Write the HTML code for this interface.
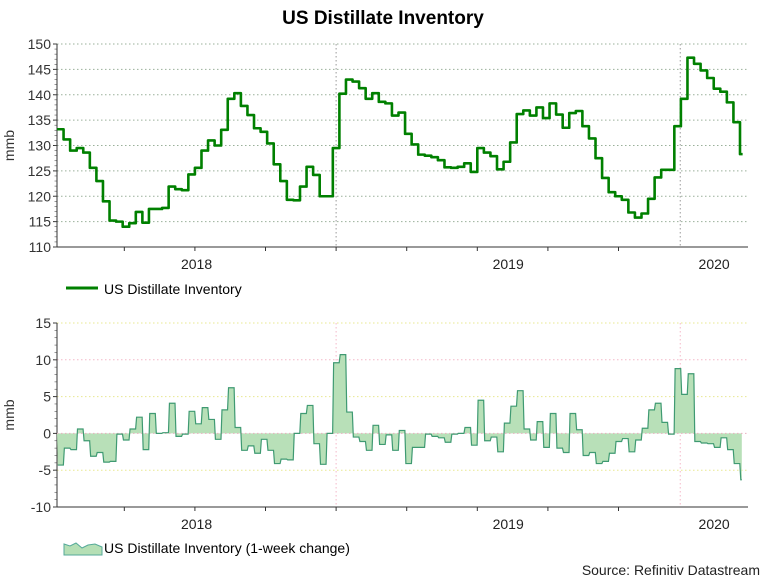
<!DOCTYPE html>
<html><head><meta charset="utf-8"><style>
body{margin:0;background:#fff;font-family:"Liberation Sans",sans-serif;}
svg text{font-family:"Liberation Sans",sans-serif;}
</style></head><body>
<svg id="c" width="772" height="577" xmlns="http://www.w3.org/2000/svg">
<text x="383" y="24" text-anchor="middle" font-size="19" font-weight="bold" fill="#000">US Distillate Inventory</text>
<g id="top"></g><g id="bot"></g>
<line x1="66" y1="288" x2="98" y2="288" stroke="#008000" stroke-width="3"/>
<text x="104" y="294" font-size="14" fill="#000">US Distillate Inventory</text>
<path d="M64,555 L64,544 L70,546 L76,543 L82,548 L88,545 L95,544 L102,547 L102,555 Z" fill="#b5dfb5" stroke="#5a9" stroke-width="1"/>
<text x="104" y="553" font-size="14" fill="#000">US Distillate Inventory (1-week change)</text>
<text x="760" y="575" text-anchor="end" font-size="14" fill="#222">Source: Refinitiv Datastream</text>
</svg>
<script>
const inventory=[133.2,131.2,129,129.5,128.6,125.6,123,119,115.2,115,114,114.7,116.9,114.8,117.5,117.5,117.7,121.9,121.4,121.2,124.3,125.6,129,131,130,133.1,139.2,140.3,137.8,136,133.4,132.7,130.4,126.3,123,119.3,119.2,121.9,125.8,124.2,120,120,129.5,140.2,143,142.6,141.3,139.2,140.3,138.6,138.3,135.9,
136.5,132.3,130.2,128.2,128,127.7,127.1,125.7,125.6,125.8,126.5,124.8,129.5,128.6,127.9,125.3,126.8,130.6,136.2,136.9,135.9,137.5,135.4,138.3,136.1,133.5,136.4,136.8,133.8,131.4,127.5,123.6,120.8,120,119.3,116.8,115.8,116.6,119.5,123.7,125.2,125.2,133.8,139.2,147.3,146.1,144.8,143.3,141.2,140.6,138.5,134.6,128.3];
const weeklyChange=[-4.3,-2.0,-2.2,0.6,-1.0,-3.1,-2.6,-3.9,-3.8,-0.1,-0.9,0.6,2.2,-2.2,2.7,0,0.1,4.1,-0.4,-0.1,3.0,1.3,3.5,1.9,-0.8,3.2,6.2,0.8,-2.3,-1.7,-2.7,-0.8,-2.3,-4.1,-3.5,-3.6,0,2.7,3.8,-1.4,-4.2,0,9.6,10.7,2.9,-0.5,-1.1,-2.3,1.1,-1.5,-0.2,-2.3,
0.4,-4.1,-1.9,-1.9,-0.1,-0.4,-0.6,-1.2,-0.1,0,0.8,-1.6,4.5,-1.0,-0.5,-2.5,1.4,3.7,5.8,0.6,-0.9,1.6,-1.9,2.7,-2.0,-2.6,2.7,0.5,-3.0,-2.6,-4.1,-3.8,-2.7,-1.1,-0.7,-2.5,-0.9,0.7,3.2,4.1,1.5,-0.1,8.8,5.3,8.1,-1.1,-1.3,-1.4,-1.9,-0.6,-2.2,-4.1,-6.3];
const topTicks=[110,115,120,125,130,135,140,145,150];
const botTicks=[-10,-5,0,5,10,15];
const yearLabels=["2018","2019","2020"];
const yearStarts=[-0.5,42.5,94.9];

const NS="http://www.w3.org/2000/svg";
const L=57,R=748,W=(740-57)/104;
function X(i){return L+i*W;}
function el(p,t,a){const e=document.createElementNS(NS,t);for(const k in a)e.setAttribute(k,a[k]);p.appendChild(e);return e;}

function panel(g,top,bottom,min,max,ticks,gridColor,hiColor,ylab,name){
  const Y=v=>bottom-(v-min)/(max-min)*(bottom-top);
  ticks.forEach((t,k)=>{
    if(t!==0||!hiColor){
    const gl=el(g,'line',{x1:L,x2:R,y1:Y(t),y2:Y(t),stroke:(hiColor&&k%2==0?hiColor:gridColor),'stroke-dasharray':'1.5,2.5','stroke-width':1});
    
    
    }
    const tx=el(g,'text',{x:51,y:Y(t)+5,'text-anchor':'end','font-size':14,fill:'#333'});
    tx.textContent=t;
    
    
    el(g,'line',{x1:53,x2:57,y1:Y(t),y2:Y(t),stroke:'#333'});
  });
  for(let v=min;v<=max;v++) el(g,'line',{x1:54.5,x2:57,y1:Y(v),y2:Y(v),stroke:'#555','stroke-width':0.6});
  [1,2].forEach(k=>{
    const vx=X(yearStarts[k]);
    el(g,'line',{x1:vx,x2:vx,y1:top,y2:bottom,stroke:hiColor||'#999','stroke-dasharray':'1.5,2.5'});
  });
  for(let q=0;q<9;q++){const qx=X(yearStarts[0])+q*(X(yearStarts[1])-X(yearStarts[0]))/4;
    if(qx>L&&qx<R) el(g,'line',{x1:qx,x2:qx,y1:bottom,y2:bottom+4,stroke:'#333'});}
  const cen=[(L+X(yearStarts[1]))/2,(X(yearStarts[1])+X(yearStarts[2]))/2,(X(yearStarts[2])+R)/2];
  yearLabels.forEach((s,k)=>{const t=el(g,'text',{x:cen[k],y:bottom+22,'text-anchor':'middle','font-size':14,fill:'#222'});t.textContent=s;
    
    });
  const yl=el(g,'text',{x:0,y:0,transform:`translate(14,${(top+bottom)/2}) rotate(-90)`,'text-anchor':'middle','font-size':14,fill:'#333'});
  yl.textContent=ylab;
  
  
  el(g,'line',{x1:L,x2:L,y1:top,y2:bottom,stroke:'#333'});
  el(g,'line',{x1:L,x2:R,y1:bottom,y2:bottom,stroke:'#333'});
  return Y;
}
const gT=document.getElementById('top'),gB=document.getElementById('bot');
const YT=panel(gT,44,247,110,150,topTicks,'#9ab09a',null,'mmb','top');
let d='';
inventory.forEach((v,i)=>{d+=(i?'L':'M')+X(i)+','+YT(v)+' L'+(X(i)+W*(i==inventory.length-1?0.4:1))+','+YT(v)+' ';});
const ln=el(gT,'path',{d:d,fill:'none',stroke:'#008000','stroke-width':2.6,'stroke-linejoin':'round'});



const YB=panel(gB,323,507,-10,15,botTicks,'#e8e890','#f4b8c8','mmb','bottom');
let p='',n=weeklyChange.length;
weeklyChange.forEach((v,i)=>{const x1=X(i)+0.8,x2=X(i)+W-0.2;p+=(i?'L':'M')+x1+','+YB(v)+' L'+(i==n-1?x1+1:x2)+','+YB(v)+' ';});
const z=YB(0);
const ar=el(gB,'path',{d:p+`L${X(n-1)+1.8},${z} L${L},${z} Z`,fill:'#b8e0b8',stroke:'none'});


el(gB,'line',{x1:L,x2:R,y1:z,y2:z,stroke:'#eab0c0','stroke-width':1,'stroke-dasharray':'1.5,2.5'});
const bl=el(gB,'path',{d:p,fill:'none',stroke:'#3f9a72','stroke-width':1.2});


</script>
</body></html>
